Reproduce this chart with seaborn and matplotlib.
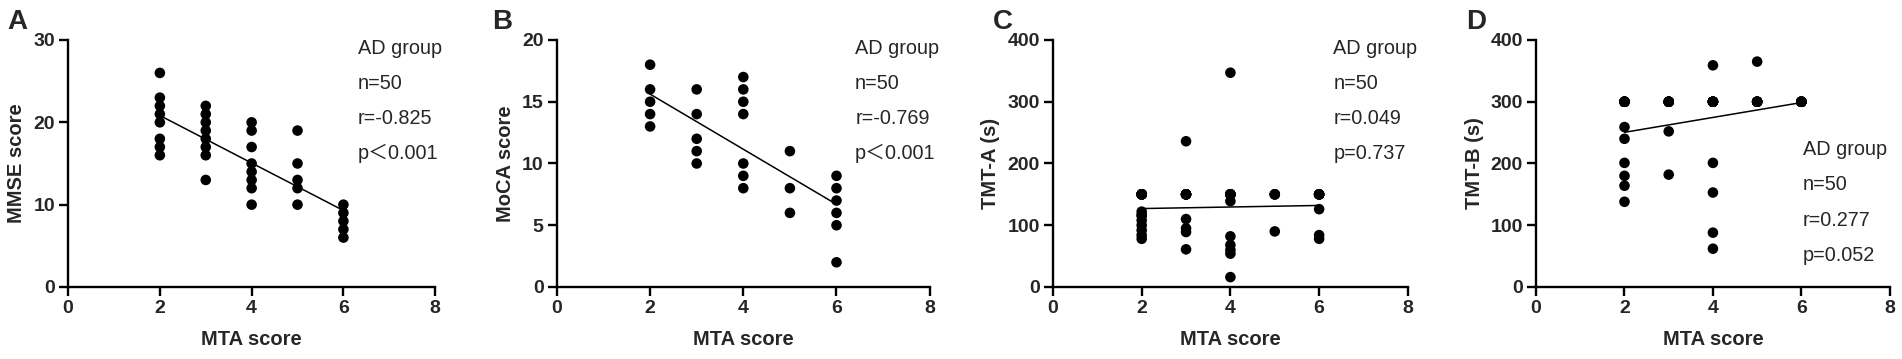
import matplotlib
matplotlib.use("Agg")
import matplotlib.pyplot as plt
import numpy as np
import pandas as pd
import seaborn as sns

# MTA score and cognitive scores (overlapping points repeated)
mmse_x = [2, 2, 2, 2, 2, 2, 2, 2, 3, 3, 3, 3, 3, 3, 3, 3, 4, 4, 4, 4, 4, 4, 4, 4, 5, 5, 5, 5, 5, 6, 6, 6, 6, 6]
mmse_y = [26, 23, 22, 21, 20, 18, 17, 16, 22, 21, 20, 19, 18, 17, 16, 13, 20, 19, 17, 15, 14, 13, 12, 10,
          19, 15, 13, 12, 10, 10, 9, 8, 7, 6]

moca_x = [2, 2, 2, 2, 2, 3, 3, 3, 3, 3, 4, 4, 4, 4, 4, 4, 4, 5, 5, 5, 6, 6, 6, 6, 6, 6]
moca_y = [18, 16, 15, 14, 13, 16, 14, 12, 11, 10, 17, 16, 15, 14, 10, 9, 8, 11, 8, 6, 9, 8, 7, 6, 5, 2]

tmta_x = [2, 2, 2, 2, 2, 2, 2, 2, 2, 2, 2, 2, 2, 2, 2,
          3, 3, 3, 3, 3, 3, 3, 3, 3, 3,
          4, 4, 4, 4, 4, 4, 4, 4, 4, 4, 4, 4, 4,
          5, 5, 5, 5,
          6, 6, 6, 6, 6, 6, 6, 6]
tmta_y = [150, 122, 116, 108, 100, 92, 84, 78, 150, 150, 150, 150, 150, 150, 116,
          236, 150, 110, 95, 89, 61, 150, 150, 150, 150,
          347, 150, 139, 82, 68, 60, 54, 16, 150, 150, 150, 150, 150,
          150, 90, 150, 150,
          150, 126, 84, 78, 150, 150, 150, 150]

tmtb_x = [2, 2, 2, 2, 2, 2, 2, 2, 2, 2, 2, 2, 2,
          3, 3, 3, 3, 3, 3, 3, 3,
          4, 4, 4, 4, 4, 4, 4, 4, 4, 4, 4, 4,
          5, 5, 5, 5, 5, 5, 5,
          6, 6, 6, 6, 6, 6, 6, 6, 6, 6]
tmtb_y = [300, 259, 240, 201, 180, 164, 138, 300, 300, 300, 300, 300, 300,
          300, 252, 182, 300, 300, 300, 300, 300,
          359, 300, 201, 153, 88, 62, 300, 300, 300, 300, 300, 300,
          365, 300, 300, 300, 300, 300, 300,
          300, 300, 300, 300, 300, 300, 300, 300, 300, 300]

letters = ["A", "B", "C", "D"]
ylabels = ["MMSE score", "MoCA score", "TMT-A (s)", "TMT-B (s)"]
ymax = [30, 20, 400, 400]
yticks = [[0, 10, 20, 30], [0, 5, 10, 15, 20], [0, 100, 200, 300, 400], [0, 100, 200, 300, 400]]
stats = [["AD group", "n=50", "r=-0.825", "p\uff1c0.001"],
         ["AD group", "n=50", "r=-0.769", "p\uff1c0.001"],
         ["AD group", "n=50", "r=0.049", "p=0.737"],
         ["AD group", "n=50", "r=0.277", "p=0.052"]]

panels = [(mmse_x, mmse_y), (moca_x, moca_y), (tmta_x, tmta_y), (tmtb_x, tmtb_y)]

sns.set_style("ticks")
plt.rcParams['font.family'] = ['Liberation Sans', 'Noto Sans CJK SC', 'DejaVu Sans']

fig = plt.figure(figsize=(19.02, 3.59), dpi=100)

# axes placement in figure fractions
lefts = [0.0358, 0.2928, 0.5536, 0.8076]
widths = [0.193, 0.196, 0.1866, 0.186]
text_x = [0.79, 0.80, 0.79, 0.754]
text_top = [0.967, 0.967, 0.967, 0.555]
letter_x = [0.004, 0.259, 0.522, 0.771]

for i, (xs, ys) in enumerate(panels):
    ax = fig.add_axes([lefts[i], 0.2006, widths[i], 0.688])
    df = pd.DataFrame({"MTA": xs, "val": ys})
    sns.regplot(data=df, x="MTA", y="val", ax=ax, ci=None, truncate=True,
                scatter_kws=dict(s=58, color="black", edgecolor="none", alpha=1),
                line_kws=dict(color="black", lw=1.1))
    ax.set_xlim(0, 8)
    ax.set_ylim(0, ymax[i])
    ax.set_xticks([0, 2, 4, 6, 8])
    ax.set_yticks(yticks[i])
    ax.set_xlabel("MTA score", fontsize=14.5, fontweight="bold", labelpad=9)
    ax.set_ylabel(ylabels[i], fontsize=14.5, fontweight="bold", labelpad=5)
    ax.tick_params(width=1.7, length=6.5, labelsize=14, color="black", pad=3)
    for lab in ax.get_xticklabels() + ax.get_yticklabels():
        lab.set_fontweight("bold")
    for side in ["left", "bottom"]:
        ax.spines[side].set_linewidth(1.7)
        ax.spines[side].set_color("black")
    sns.despine(ax=ax)
    for j, s in enumerate(stats[i]):
        ax.text(text_x[i], text_top[i] - j * 0.142, s, transform=ax.transAxes,
                fontsize=14.3, va="center", ha="left")
    fig.text(letter_x[i], 0.94, letters[i], fontsize=20, fontweight="bold", va="center", ha="left")

fig.savefig("out.png", dpi=100)
